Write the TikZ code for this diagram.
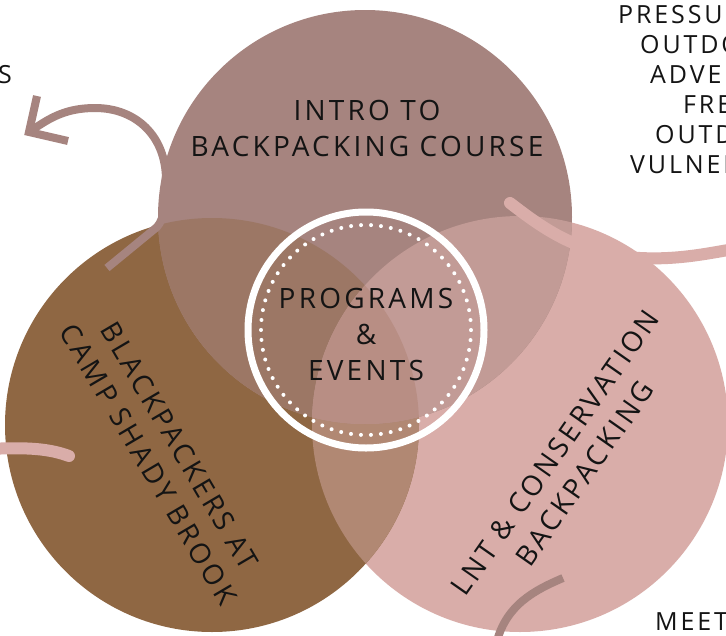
\documentclass[tikz,border=0pt]{standalone}
\usepackage{fontspec}
\setmainfont{Open Sans}
\newfontfamily\spaced[LetterSpace=11.5]{Open Sans}
\definecolor{topc}{HTML}{A6847F}
\definecolor{brownc}{HTML}{8F6743}
\definecolor{pinkc}{HTML}{D9ADA9}
\definecolor{topbrown}{HTML}{9C7765}
\definecolor{toppink}{HTML}{C29B96}
\definecolor{brownpink}{HTML}{B18873}
\definecolor{allthree}{HTML}{B88E84}
\definecolor{ink}{HTML}{141414}
\tikzset{
  lbl/.style={font=\spaced\fontsize{28}{36}\selectfont, text=ink, align=center, inner sep=0pt},
  side/.style={font=\spaced\fontsize{25}{30}\selectfont, text=ink, inner sep=0pt, anchor=base west},
  mauveline/.style={draw=topc, line width=8pt},
  pinkline/.style={draw=pinkc, line width=12pt, line cap=round},
}
\begin{document}
\begin{tikzpicture}[x=1pt,y=-1pt]
\useasboundingbox (0,0) rectangle (726,635);
\clip (0,0) rectangle (726,635);
\fill[white] (0,0) rectangle (726,635);

% circle centres
\coordinate (ctop) at (365,217);
\coordinate (cbrown) at (212,425);
\coordinate (cpink) at (520,424);
\coordinate (cmid) at (366,330);

% the three circles
\fill[pinkc] (cpink) circle[radius=208pt];
\fill[brownc] (cbrown) circle[radius=207pt];
\fill[topc] (ctop) circle[radius=207pt];
% overlaps
\begin{scope}
  \clip (cbrown) circle[radius=207pt];
  \fill[brownpink] (cpink) circle[radius=208pt];
\end{scope}
\begin{scope}
  \clip (ctop) circle[radius=207pt];
  \fill[topbrown] (cbrown) circle[radius=207pt];
  \fill[toppink] (cpink) circle[radius=208pt];
  \clip (cbrown) circle[radius=207pt];
  \fill[allthree] (cpink) circle[radius=208pt];
\end{scope}

% central badge
\draw[white, line width=7pt] (cmid) circle[radius=118pt];
\draw[white, line width=4pt, line cap=round, dash pattern=on 0pt off 9.995pt] (cmid) circle[radius=105pt];

% connectors
\coordinate (a0) at (107,268);
\coordinate (a1) at (157,227);
\coordinate (a2) at (166,180);
\coordinate (a3) at (95,108);
\coordinate (atip) at (29,132);
\coordinate (barb1) at (37,96);
\coordinate (barb2) at (68,141);
\draw[mauveline] (a0) -- (a1) .. controls (165,218) and (166,200) .. (a2)
  .. controls (166,136) and (136,108) .. (a3)
  .. controls (62,108) and (46,121) .. (atip);
\draw[mauveline, line join=miter] (barb1) -- (atip) -- (barb2);

\coordinate (l0) at (-12,449);
\coordinate (l1) at (69,456);
\draw[pinkline] (l0) .. controls (30,447) and (50,449) .. (l1);

\coordinate (r0) at (510,203);
\coordinate (r1) at (640,258);
\coordinate (r2) at (745,247);
\draw[pinkline] (r0) .. controls (545,230) and (580,255) .. (r1)
  .. controls (680,260) and (710,253) .. (r2);

\coordinate (b0) at (563,578);
\coordinate (b1) at (496,645);
\draw[mauveline] (b0) .. controls (535,590) and (505,605) .. (b1);

% labels
\node[lbl] (intro) at (367,128) {INTRO TO\\BACKPACKING COURSE};
\node[lbl] (prog) at (366,334) {PROGRAMS\\\&\\EVENTS};
\node[lbl, rotate=-59.5] (camp) at (164,455) {BLACKPACKERS AT\\CAMP SHADY BROOK};
\node[lbl, rotate=55] (lnt) at (570,463) {LNT \& CONSERVATION\\BACKPACKING};

% side texts
\node[side, anchor=base east] (sleft) at (12,83) {S};
\node[side] (t1) at (618,23) {PRESSUR};
\node[side] (t2) at (640,53) {OUTDO};
\node[side] (t3) at (650,83) {ADVEN};
\node[side] (t4) at (683,113) {FRE};
\node[side] (t5) at (655,143) {OUTDO};
\node[side] (t6) at (630,173) {VULNER};
\node[side] (meet) at (655,630) {MEET};
\end{tikzpicture}
\end{document}
